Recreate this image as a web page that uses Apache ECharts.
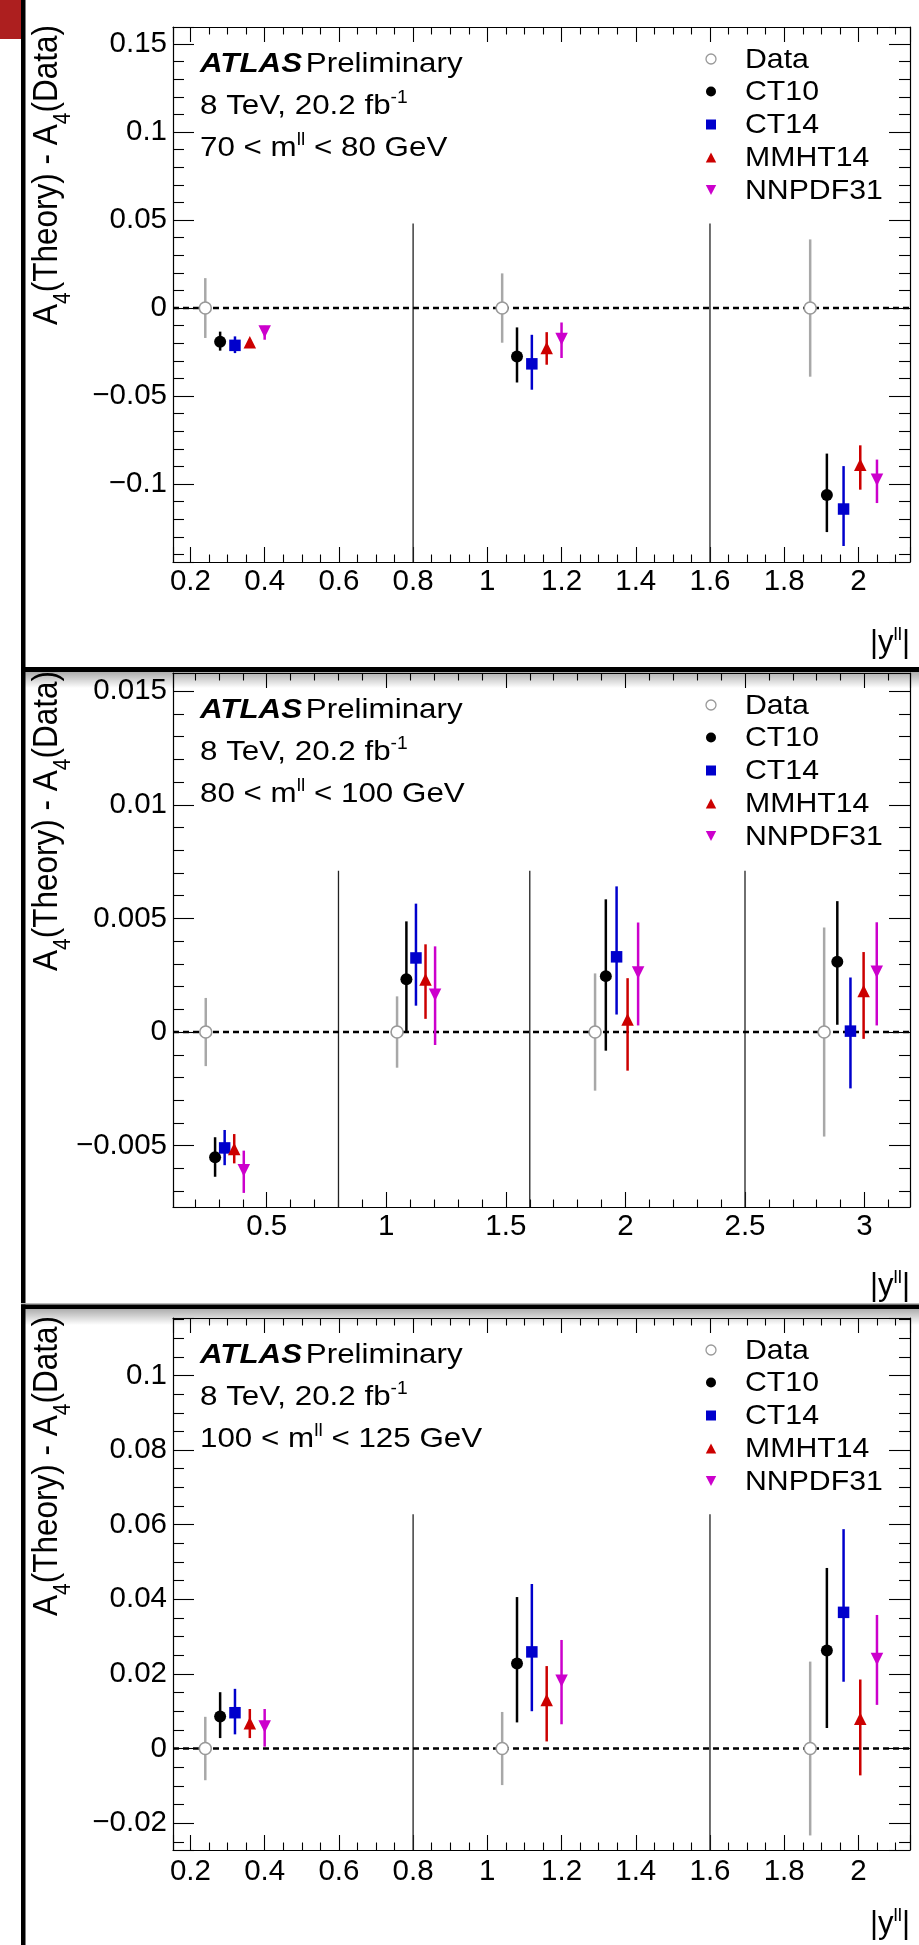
<!DOCTYPE html>
<html><head><meta charset="utf-8">
<script src="https://cdn.jsdelivr.net/npm/echarts@6/dist/echarts.min.js"></script>
<style>html,body{margin:0;padding:0;background:#fff;}#c{width:919px;height:1945px;}</style>
</head><body><div id="c"></div>
<script>
const FONT = "'Liberation Sans', Arial, Helvetica, sans-serif";
const seriesNames = ['Data', 'CT10', 'CT14', 'MMHT14', 'NNPDF31'];
const massRanges = [['70', '80'], ['80', '100'], ['100', '125']];

// tick labels
const xTicksA = ['0.2','0.4','0.6','0.8','1','1.2','1.4','1.6','1.8','2'];
const xTicksB = ['0.5','1','1.5','2','2.5','3'];
const p1YTicks = ['\u22120.1','\u22120.05','0','0.05','0.1','0.15'];
const p2YTicks = ['\u22120.005','0','0.005','0.01','0.015'];
const p3YTicks = ['\u22120.02','0','0.02','0.04','0.06','0.08','0.1'];

// axis ranges
const p1XRange = [0.153, 2.139], p1YRange = [-0.1443, 0.1597];
const p2XRange = [0.108, 3.19],  p2YRange = [-0.0077, 0.0158];
const p3XRange = [0.153, 2.139], p3YRange = [-0.0272, 0.1154];

// bin separators
const p1Sep = [0.8, 1.6], p1SepTop = 0.048;
const p2Sep = [0.8, 1.6, 2.5], p2SepTop = 0.0071;
const p3Sep = [0.8, 1.6], p3SepTop = 0.0628;

// ---- Panel 1: 70 < m_ll < 80 GeV ----
const p1_Data_x = [0.24, 1.04, 1.87];
const p1_Data_y = [0, 0, 0];
const p1_Data_dn = [0.017, 0.0197, 0.039];
const p1_Data_up = [0.017, 0.0197, 0.039];
const p1_CT10_x = [0.28, 1.08, 1.915];
const p1_CT10_y = [-0.0192, -0.0275, -0.1062];
const p1_CT10_dn = [0.0050, 0.0148, 0.0211];
const p1_CT10_up = [0.0058, 0.0165, 0.0235];
const p1_CT14_x = [0.32, 1.12, 1.96];
const p1_CT14_y = [-0.0212, -0.0317, -0.1142];
const p1_CT14_dn = [0.0044, 0.0147, 0.0210];
const p1_CT14_up = [0.0051, 0.0165, 0.0244];
const p1_MMHT14_x = [0.36, 1.16, 2.005];
const p1_MMHT14_y = [-0.0195, -0.0227, -0.0890];
const p1_MMHT14_dn = [0.0018, 0.0095, 0.0142];
const p1_MMHT14_up = [0.0018, 0.0090, 0.0110];
const p1_NNPDF31_x = [0.40, 1.20, 2.05];
const p1_NNPDF31_y = [-0.0133, -0.0176, -0.0975];
const p1_NNPDF31_dn = [0.0047, 0.0108, 0.0133];
const p1_NNPDF31_up = [0.0032, 0.0094, 0.0114];

// ---- Panel 2: 80 < m_ll < 100 GeV ----
const p2_Data_x = [0.245, 1.045, 1.873, 2.831];
const p2_Data_y = [0, 0, 0, 0];
const p2_Data_dn = [0.0015, 0.00157, 0.00258, 0.0046];
const p2_Data_up = [0.0015, 0.00157, 0.00258, 0.0046];
const p2_CT10_x = [0.284, 1.084, 1.918, 2.886];
const p2_CT10_y = [-0.00551, 0.00232, 0.00246, 0.00309];
const p2_CT10_dn = [0.00086, 0.00232, 0.00328, 0.00277];
const p2_CT10_up = [0.00088, 0.00255, 0.00338, 0.00267];
const p2_CT14_x = [0.324, 1.124, 1.963, 2.941];
const p2_CT14_y = [-0.0051, 0.00326, 0.00331, 0.00004];
const p2_CT14_dn = [0.00076, 0.0021, 0.00254, 0.00252];
const p2_CT14_up = [0.00079, 0.00239, 0.0031, 0.00236];
const p2_MMHT14_x = [0.364, 1.164, 2.009, 2.996];
const p2_MMHT14_y = [-0.00515, 0.00231, 0.00055, 0.00181];
const p2_MMHT14_dn = [0.00063, 0.00173, 0.00225, 0.00211];
const p2_MMHT14_up = [0.00066, 0.00155, 0.00182, 0.00171];
const p2_NNPDF31_x = [0.404, 1.204, 2.053, 3.051];
const p2_NNPDF31_y = [-0.00608, 0.00164, 0.00262, 0.00265];
const p2_NNPDF31_dn = [0.0010, 0.00221, 0.00233, 0.00236];
const p2_NNPDF31_up = [0.00086, 0.00213, 0.0022, 0.00218];

// ---- Panel 3: 100 < m_ll < 125 GeV ----
const p3_Data_x = [0.24, 1.04, 1.87];
const p3_Data_y = [0, 0, 0];
const p3_Data_dn = [0.0085, 0.0098, 0.0233];
const p3_Data_up = [0.0085, 0.0098, 0.0233];
const p3_CT10_x = [0.28, 1.08, 1.915];
const p3_CT10_y = [0.0086, 0.0228, 0.0263];
const p3_CT10_dn = [0.0058, 0.0158, 0.0208];
const p3_CT10_up = [0.0065, 0.0178, 0.0221];
const p3_CT14_x = [0.32, 1.12, 1.96];
const p3_CT14_y = [0.0096, 0.0259, 0.0365];
const p3_CT14_dn = [0.0058, 0.0159, 0.0186];
const p3_CT14_up = [0.0064, 0.0182, 0.0223];
const p3_MMHT14_x = [0.36, 1.16, 2.005];
const p3_MMHT14_y = [0.0068, 0.013, 0.008];
const p3_MMHT14_dn = [0.0040, 0.0111, 0.0152];
const p3_MMHT14_up = [0.0038, 0.0091, 0.0105];
const p3_NNPDF31_x = [0.40, 1.20, 2.05];
const p3_NNPDF31_y = [0.0059, 0.0182, 0.024];
const p3_NNPDF31_dn = [0.0054, 0.0117, 0.0123];
const p3_NNPDF31_up = [0.0047, 0.0109, 0.0118];

// ---------- styles ----------
const barColors = ['#a8a8a8', '#000000', '#0000cc', '#cc0000', '#cc00cc'];
const markerStyles = [
  {symbol: 'circle', size: 12, rotate: 0, item: {color: '#ffffff', borderColor: '#999999', borderWidth: 1.6}},
  {symbol: 'circle', size: 12, rotate: 0, item: {color: '#000000'}},
  {symbol: 'rect', size: 11.5, rotate: 0, item: {color: '#0000cc'}},
  {symbol: 'triangle', size: 12.5, rotate: 0, item: {color: '#cc0000'}},
  {symbol: 'triangle', size: 12.5, rotate: 180, item: {color: '#cc00cc'}}
];

const panels = [
  {top: 27, height: 535, xr: p1XRange, yr: p1YRange, xMajor: 0.2, xMinor: 4, yMajor: 0.05, yMinor: 5,
   xLabels: xTicksA, yLabels: p1YTicks, sep: p1Sep, sepTop: p1SepTop, off: 0, xTitleY: 643, lm: 5,
   sets: [[p1_Data_x,p1_Data_y,p1_Data_dn,p1_Data_up],[p1_CT10_x,p1_CT10_y,p1_CT10_dn,p1_CT10_up],
          [p1_CT14_x,p1_CT14_y,p1_CT14_dn,p1_CT14_up],[p1_MMHT14_x,p1_MMHT14_y,p1_MMHT14_dn,p1_MMHT14_up],
          [p1_NNPDF31_x,p1_NNPDF31_y,p1_NNPDF31_dn,p1_NNPDF31_up]]},
  {top: 673, height: 534, xr: p2XRange, yr: p2YRange, xMajor: 0.5, xMinor: 5, yMajor: 0.005, yMinor: 5,
   xLabels: xTicksB, yLabels: p2YTicks, sep: p2Sep, sepTop: p2SepTop, off: 646, xTitleY: 1286, lm: 5,
   sets: [[p2_Data_x,p2_Data_y,p2_Data_dn,p2_Data_up],[p2_CT10_x,p2_CT10_y,p2_CT10_dn,p2_CT10_up],
          [p2_CT14_x,p2_CT14_y,p2_CT14_dn,p2_CT14_up],[p2_MMHT14_x,p2_MMHT14_y,p2_MMHT14_dn,p2_MMHT14_up],
          [p2_NNPDF31_x,p2_NNPDF31_y,p2_NNPDF31_dn,p2_NNPDF31_up]]},
  {top: 1318, height: 532, xr: p3XRange, yr: p3YRange, xMajor: 0.2, xMinor: 4, yMajor: 0.02, yMinor: 4,
   xLabels: xTicksA, yLabels: p3YTicks, sep: p3Sep, sepTop: p3SepTop, off: 1291, xTitleY: 1924, lm: 7,
   sets: [[p3_Data_x,p3_Data_y,p3_Data_dn,p3_Data_up],[p3_CT10_x,p3_CT10_y,p3_CT10_dn,p3_CT10_up],
          [p3_CT14_x,p3_CT14_y,p3_CT14_dn,p3_CT14_up],[p3_MMHT14_x,p3_MMHT14_y,p3_MMHT14_dn,p3_MMHT14_up],
          [p3_NNPDF31_x,p3_NNPDF31_y,p3_NNPDF31_dn,p3_NNPDF31_up]]}
];

function fmt(v, labels) {
  for (const s of labels) {
    if (Math.abs(parseFloat(s.replace('\u2212', '-')) - v) < 1e-9) return s;
  }
  return '';
}

const grid = [], xAxis = [], yAxis = [], series = [], graphic = [];
const labelStyle = {color: '#000', fontSize: 29.5, fontFamily: FONT};

panels.forEach((p, gi) => {
  grid.push({left: 173, top: p.top, width: 737, height: p.height, show: false});
  const xc = {type: 'value', gridIndex: gi, min: p.xr[0], max: p.xr[1], minInterval: p.xMajor, maxInterval: p.xMajor,
    splitNumber: 10, axisLine: {show: true, onZero: false, lineStyle: {color: '#000', width: 1.2}},
    axisTick: {show: true, inside: true, length: 15, lineStyle: {color: '#000', width: 1.1}},
    minorTick: {show: true, splitNumber: p.xMinor, length: 7.5, lineStyle: {color: '#000', width: 1.1}},
    splitLine: {show: false}, minorSplitLine: {show: false}};
  xAxis.push(Object.assign({}, xc, {position: 'bottom',
    axisLabel: Object.assign({show: true, margin: p.lm, showMinLabel: false, showMaxLabel: false,
      formatter: v => fmt(v, p.xLabels)}, labelStyle)}));
  xAxis.push(Object.assign({}, xc, {position: 'top', axisLabel: {show: false}}));
  const yc = {type: 'value', gridIndex: gi, min: p.yr[0], max: p.yr[1], minInterval: p.yMajor, maxInterval: p.yMajor,
    splitNumber: 8, axisLine: {show: true, onZero: false, lineStyle: {color: '#000', width: 1.2}},
    axisTick: {show: true, inside: true, length: 21, lineStyle: {color: '#000', width: 1.1}},
    minorTick: {show: true, splitNumber: p.yMinor, length: 11, lineStyle: {color: '#000', width: 1.1}},
    splitLine: {show: false}, minorSplitLine: {show: false}};
  yAxis.push(Object.assign({}, yc, {position: 'left',
    axisLabel: Object.assign({show: true, margin: 6, showMinLabel: false, showMaxLabel: false,
      formatter: v => fmt(v, p.yLabels)}, labelStyle)}));
  yAxis.push(Object.assign({}, yc, {position: 'right', axisLabel: {show: false}}));

  const xi = 2 * gi, yi = 2 * gi;
  // zero line
  series.push({type: 'line', xAxisIndex: xi, yAxisIndex: yi, data: [[p.xr[0], 0], [p.xr[1], 0]],
    symbol: 'none', silent: true, z: 1, lineStyle: {color: '#000', width: 2.6, type: [6, 4]}});
  // separators
  series.push({type: 'custom', xAxisIndex: xi, yAxisIndex: yi, silent: true, z: 1,
    data: p.sep.map(x => [x, p.sepTop]), encode: {x: 0, y: 1},
    renderItem: (params, api) => {
      const a = api.coord([api.value(0), api.value(1)]);
      const b = api.coord([api.value(0), p.yr[0]]);
      return {type: 'line', shape: {x1: a[0], y1: a[1], x2: b[0], y2: b[1]},
        style: {stroke: '#222', lineWidth: 1.3}};
    }});
  p.sets.forEach((s, k) => {
    const [xs, ys, dn, up] = s;
    series.push({type: 'custom', name: seriesNames[k], xAxisIndex: xi, yAxisIndex: yi, silent: true, z: 3 + 2 * k,
      data: xs.map((x, i) => [x, ys[i], ys[i] - dn[i], ys[i] + up[i]]), encode: {x: 0, y: [1, 2, 3]},
      renderItem: (params, api) => {
        const a = api.coord([api.value(0), api.value(2)]);
        const b = api.coord([api.value(0), api.value(3)]);
        return {type: 'line', shape: {x1: a[0], y1: a[1], x2: b[0], y2: b[1]},
          style: {stroke: barColors[k], lineWidth: 2.5}};
      }});
    const m = markerStyles[k];
    series.push({type: 'scatter', name: seriesNames[k], xAxisIndex: xi, yAxisIndex: yi, silent: true, z: 4 + 2 * k,
      data: xs.map((x, i) => [x, ys[i]]), symbol: m.symbol, symbolSize: m.size, symbolRotate: m.rotate,
      itemStyle: Object.assign({opacity: 1}, m.item)});
  });

  // ---- texts ----
  const o = p.off;
  const tx = (y, text, rich) => ({type: 'text', x: 200, y: y + o, scaleX: 1.1, z: 50,
    style: {text: text, align: 'left', verticalAlign: 'middle', fill: '#000', rich: rich}});
  const n = {fontSize: 28.5, fontFamily: FONT, lineHeight: 34, fill: '#000'};
  const sup = {fontSize: 17.5, fontFamily: FONT, lineHeight: 17, verticalAlign: 'top', fill: '#000'};
  graphic.push(tx(64, '{b|ATLAS} {n|Preliminary}',
    {b: Object.assign({}, n, {fontWeight: 'bold', fontStyle: 'italic'}), n: n}));
  graphic.push(tx(106, '{n|8 TeV, 20.2 fb}{s|-1}', {n: n, s: sup}));
  graphic.push(tx(148, '{n|' + massRanges[gi][0] + ' < m}{s|ll}{n| < ' + massRanges[gi][1] + ' GeV}', {n: n, s: sup}));

  // legend
  const legY = [59, 91.5, 124.5, 157.5, 190];
  const mx = 711;
  seriesNames.forEach((nm, k) => {
    const cy = legY[k] + o;
    graphic.push({type: 'text', x: 745, y: cy + 1, scaleX: 1.1, z: 50,
      style: {text: nm, fontSize: 27.5, fontFamily: FONT, fill: '#000', align: 'left', verticalAlign: 'middle'}});
    let shp;
    if (k === 0) shp = {type: 'circle', shape: {cx: mx, cy: cy, r: 5}, style: {fill: '#fff', stroke: '#999', lineWidth: 1.3}};
    else if (k === 1) shp = {type: 'circle', shape: {cx: mx, cy: cy, r: 5}, style: {fill: '#000'}};
    else if (k === 2) shp = {type: 'rect', shape: {x: mx - 5, y: cy - 5, width: 10, height: 10}, style: {fill: '#0000cc'}};
    else if (k === 3) shp = {type: 'polygon', shape: {points: [[mx - 5.2, cy + 5], [mx + 5.2, cy + 5], [mx, cy - 5]]}, style: {fill: '#cc0000'}};
    else shp = {type: 'polygon', shape: {points: [[mx - 5.2, cy - 5], [mx + 5.2, cy - 5], [mx, cy + 5]]}, style: {fill: '#cc00cc'}};
    shp.z = 50;
    graphic.push(shp);
  });

  // y-axis title (rotated)
  const yn = {fontSize: 31.5, fontFamily: FONT, lineHeight: 50, fill: '#000'};
  const ys = {fontSize: 21, fontFamily: FONT, lineHeight: 20, verticalAlign: 'bottom', fill: '#000'};
  graphic.push({type: 'text', x: 19.5, y: 25 + o, rotation: Math.PI / 2, scaleY: 1.12, z: 50,
    style: {text: '{n|A}{s|4}{n|(Theory) - A}{s|4}{n|(Data)}', align: 'right', verticalAlign: 'top',
      rich: {n: yn, s: ys}}});
  // x-axis title
  const xn = {fontSize: 31, fontFamily: FONT, lineHeight: 36, fill: '#000'};
  const xs2 = {fontSize: 19, fontFamily: FONT, lineHeight: 18, verticalAlign: 'top', fill: '#000'};
  graphic.push({type: 'text', x: 910, y: p.xTitleY, z: 50,
    style: {text: '{n||y}{s|ll}{n||}', align: 'right', verticalAlign: 'middle', rich: {n: xn, s: xs2}}});
});

// page decorations (panel separators, side bar)
const shadow = {type: 'linear', x: 0, y: 0, x2: 0, y2: 1,
  colorStops: [{offset: 0, color: 'rgba(0,0,0,0.32)'}, {offset: 1, color: 'rgba(0,0,0,0)'}]};
graphic.push({type: 'rect', shape: {x: 0, y: 0, width: 21, height: 39}, style: {fill: '#ad1f1f'}, z: 60});
graphic.push({type: 'rect', shape: {x: 21, y: 0, width: 4.5, height: 1945}, style: {fill: '#000'}, z: 60});
graphic.push({type: 'rect', shape: {x: 21, y: 667, width: 898, height: 5}, style: {fill: '#000'}, z: 60});
graphic.push({type: 'rect', shape: {x: 25, y: 672, width: 894, height: 16}, style: {fill: shadow}, z: 59});
graphic.push({type: 'rect', shape: {x: 21, y: 1303, width: 898, height: 1.5}, style: {fill: '#bbb'}, z: 60});
graphic.push({type: 'rect', shape: {x: 21, y: 1304.5, width: 898, height: 4.5}, style: {fill: '#000'}, z: 60});
graphic.push({type: 'rect', shape: {x: 25, y: 1309, width: 894, height: 16}, style: {fill: shadow}, z: 59});

const chart = echarts.init(document.getElementById('c'), null, {renderer: 'canvas'});
chart.setOption({animation: false, backgroundColor: '#fff', textStyle: {fontFamily: FONT},
  grid, xAxis, yAxis, series, graphic});
</script></body></html>
